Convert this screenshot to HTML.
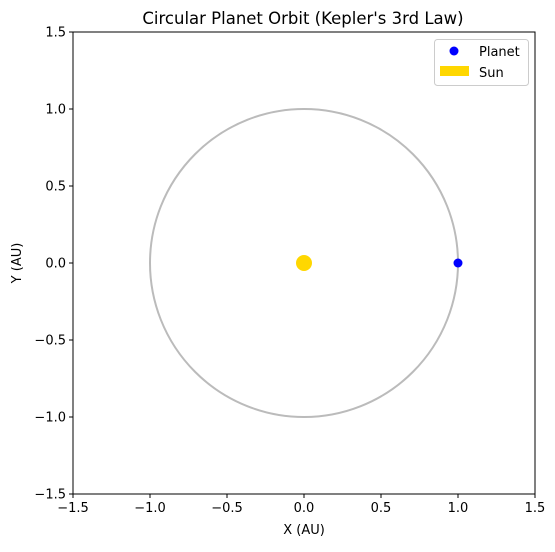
<!DOCTYPE html>
<html><head><meta charset="utf-8"><style>
body{margin:0;background:#fff}
text{font-family:"DejaVu Sans","Liberation Sans",sans-serif;fill:#000}
</style></head><body>
<svg id="chart" width="555" height="547" viewBox="0 0 555 547" xmlns="http://www.w3.org/2000/svg">
<rect width="555" height="547" fill="#fff"/>
<text x="303" y="24" text-anchor="middle" font-size="16.5">Circular Planet Orbit (Kepler's 3rd Law)</text>
<g id="plot"></g>
<text x="304" y="534" text-anchor="middle" font-size="13">X (AU)</text>
<text transform="translate(21,263) rotate(-90)" text-anchor="middle" font-size="13">Y (AU)</text>
<g>
<rect x="434.5" y="39.5" width="94" height="46" rx="3" fill="#fff" stroke="#ccc"/>
<circle cx="454" cy="51" r="4.5" fill="#0000ff"/>
<text x="479" y="56" font-size="13">Planet</text>
<rect x="440" y="66" width="29" height="10" fill="#ffd700"/>
<text x="479" y="77" font-size="13">Sun</text>
</g>
</svg>
<script>
const xTicks=[-1.5,-1.0,-0.5,0.0,0.5,1.0,1.5];
const yTicks=[-1.5,-1.0,-0.5,0.0,0.5,1.0,1.5];
const orbitRadius=[1.0];
const planetPos=[1.0,0.0];
const sunPos=[0.0,0.0];
const L=73,R=535,T=32,B=494;
const sx=v=>L+(v+1.5)/3*(R-L);
const sy=v=>B-(v+1.5)/3*(B-T);
const NS='http://www.w3.org/2000/svg';
const g=document.getElementById('plot');
function mk(t,a){const e=document.createElementNS(NS,t);for(const k in a)e.setAttribute(k,a[k]);g.appendChild(e);return e;}
const fmt=v=>(v<0?'\u2212':'')+Math.abs(v).toFixed(1);
const orb=mk('ellipse',{cx:sx(0),cy:sy(0),rx:sx(orbitRadius[0])-sx(0),ry:sy(0)-sy(orbitRadius[0]),fill:'none',stroke:'#bbb','stroke-width':2});


const sun=mk('circle',{cx:sx(sunPos[0]),cy:sy(sunPos[1]),r:8,fill:'#ffd700'});


const pl=mk('circle',{cx:sx(planetPos[0]),cy:sy(planetPos[1]),r:4.5,fill:'#0000ff'});


const fr=mk('rect',{x:L,y:T,width:R-L,height:B-T,fill:'none',stroke:'#000','stroke-width':1});


xTicks.forEach(v=>{
 const l=mk('line',{x1:sx(v),x2:sx(v),y1:B,y2:B+4,stroke:'#000'});
 
 
 const t=mk('text',{x:sx(v),y:B+18,'text-anchor':'middle','font-size':13});
 t.textContent=fmt(v);
 
 
});
yTicks.forEach(v=>{
 const l=mk('line',{x1:L-4,x2:L,y1:sy(v),y2:sy(v),stroke:'#000'});
 
 
 const t=mk('text',{x:L-7,y:sy(v)+4.5,'text-anchor':'end','font-size':13});
 t.textContent=fmt(v);
 
 
});
</script>
</body></html>
